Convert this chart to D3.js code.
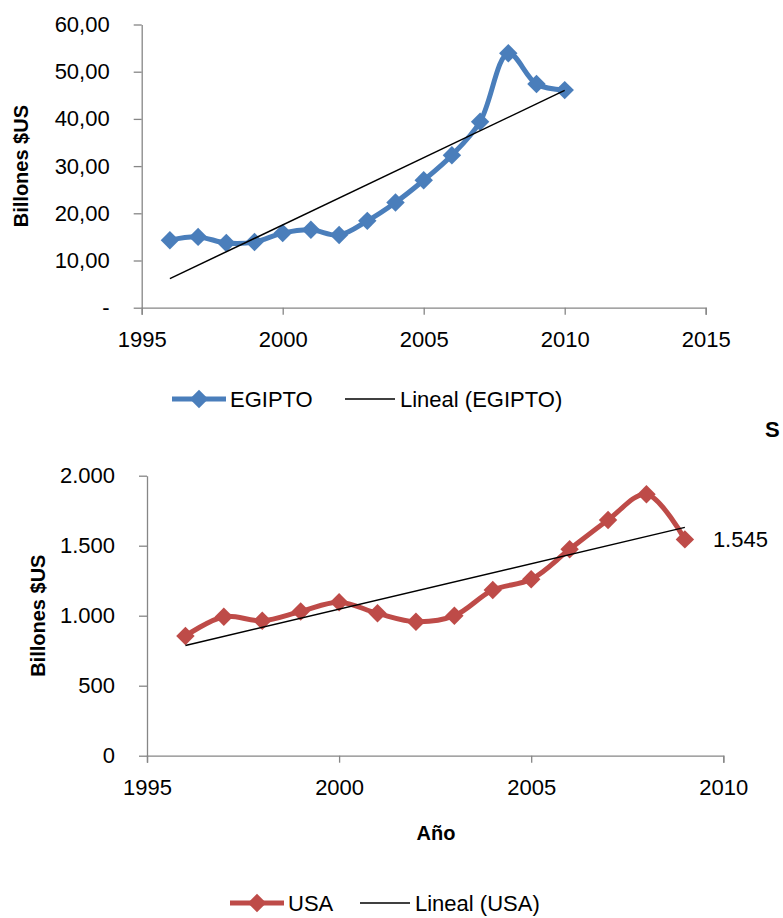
<!DOCTYPE html>
<html>
<head>
<meta charset="utf-8">
<script src="https://cdn.jsdelivr.net/npm/d3@7"></script>
<style>
  body { margin: 0; background: #fff; }
  svg { display: block; font-family: "Liberation Sans", Arial, sans-serif; }
</style>
</head>
<body>
<div id="chart"></div>
<script>
// EGIPTO (billones $US)
const egiptoYears = [1996, 1997, 1998, 1999, 2000, 2001, 2002, 2003, 2004, 2005, 2006, 2007, 2008, 2009, 2010];
const egiptoValues = [14.3, 15.0, 13.7, 13.9, 15.8, 16.5, 15.4, 18.4, 22.3, 27.0, 32.3, 39.4, 53.9, 47.4, 46.1];
const egiptoXTicks = [1995, 2000, 2005, 2010, 2015];
const egiptoYTicks = [0, 10, 20, 30, 40, 50, 60];

// USA (billones $US)
const usaYears = [1996, 1997, 1998, 1999, 2000, 2001, 2002, 2003, 2004, 2005, 2006, 2007, 2008, 2009];
const usaValues = [855, 993, 964, 1030, 1096, 1017, 957, 1000, 1184, 1260, 1474, 1684, 1867, 1545];
const usaXTicks = [1995, 2000, 2005, 2010];
const usaYTicks = [0, 500, 1000, 1500, 2000];

const W = 783, H = 918;
const locale = d3.formatLocale({ decimal: ',', thousands: '.', grouping: [3], currency: ['$', ''] });
const AXIS = '#868686';

const svg = d3.select('#chart').append('svg')
  .attr('width', W).attr('height', H).attr('viewBox', `0 0 ${W} ${H}`);

function linearFit(xs, ys) {
  const mx = d3.mean(xs), my = d3.mean(ys);
  const sxy = d3.sum(xs, (x, i) => (x - mx) * (ys[i] - my));
  const sxx = d3.sum(xs, (x) => (x - mx) ** 2);
  const b = sxy / sxx;
  return (x) => my + b * (x - mx);
}

function drawPanel(o) {
  const x = d3.scaleLinear().domain(d3.extent(o.xTicks)).range([o.left, o.right]);
  const y = d3.scaleLinear().domain(d3.extent(o.yTicks)).range([o.bottom, o.top]);
  const g = svg.append('g');

  // axes
  const xAxis = g.append('g').attr('transform', `translate(0,${o.bottom})`)
    .call(d3.axisBottom(x).tickValues(o.xTicks).tickSize(7).tickSizeOuter(7).tickPadding(17).tickFormat(d3.format('d')));
  const yAxis = g.append('g').attr('transform', `translate(${o.left},0)`)
    .call(d3.axisLeft(y).tickValues(o.yTicks).tickSize(8).tickSizeOuter(0).tickPadding(24).tickFormat(o.yFormat));
  [xAxis, yAxis].forEach((ax) => {
    ax.selectAll('line, path').attr('stroke', AXIS).attr('stroke-width', 1.3);
    ax.selectAll('text').attr('fill', '#000').attr('font-size', 22);
  });

  // y title
  g.append('text')
    .attr('transform', `translate(${o.yTitleX},${(o.top + o.bottom) / 2}) rotate(-90)`)
    .attr('text-anchor', 'middle').attr('font-size', 20).attr('font-weight', 'bold')
    .text('Billones $US');

  // series
  g.append('path')
    .attr('fill', 'none').attr('stroke', o.color).attr('stroke-width', 5)
    .attr('stroke-linejoin', 'round')
    .attr('d', d3.line().x((d, i) => x(o.xs[i])).y((d) => y(d))
      .curve(d3.curveCatmullRom.alpha(0.5))(o.ys));

  const diamond = d3.symbol(d3.symbolSquare, 170);
  g.selectAll('.mk').data(o.ys).join('path')
    .attr('transform', (d, i) => `translate(${x(o.xs[i])},${y(d)}) rotate(45)`)
    .attr('d', diamond).attr('fill', o.color);

  // linear trend
  const fit = linearFit(o.xs, o.ys);
  const ends = d3.extent(o.xs);
  g.append('path')
    .attr('fill', 'none').attr('stroke', '#000').attr('stroke-width', 1.5)
    .attr('d', d3.line().x((d) => x(d)).y((d) => y(fit(d)))(ends));

  // legend
  const lg = g.append('g').attr('transform', `translate(0,${o.legendY})`);
  lg.append('line').attr('x1', o.legendX).attr('x2', o.legendX + 54).attr('y1', 0).attr('y2', 0)
    .attr('stroke', o.color).attr('stroke-width', 5);
  lg.append('path').attr('transform', `translate(${o.legendX + 27},0) rotate(45)`)
    .attr('d', diamond).attr('fill', o.color);
  lg.append('text').attr('x', o.legendX + 58).attr('y', 8).attr('font-size', 22).text(o.name);
  const x2 = o.legendX + o.legendGap;
  lg.append('line').attr('x1', x2).attr('x2', x2 + 50).attr('y1', 0).attr('y2', 0)
    .attr('stroke', '#000').attr('stroke-width', 1.5);
  lg.append('text').attr('x', x2 + 55).attr('y', 8).attr('font-size', 22).text(`Lineal (${o.name})`);

  return { x, y, g };
}

drawPanel({
  xs: egiptoYears, ys: egiptoValues, xTicks: egiptoXTicks, yTicks: egiptoYTicks,
  left: 141.7, right: 705.7, top: 24.5, bottom: 307.7,
  yFormat: (d) => (d === 0 ? '-' : locale.format(',.2f')(d)),
  color: '#4a7ebb', name: 'EGIPTO', yTitleX: 28,
  legendX: 172, legendGap: 173, legendY: 399
});

const usa = drawPanel({
  xs: usaYears, ys: usaValues, xTicks: usaXTicks, yTicks: usaYTicks,
  left: 147, right: 723.3, top: 475.7, bottom: 755.7,
  yFormat: locale.format(',d'),
  color: '#be4b48', name: 'USA', yTitleX: 45,
  legendX: 230, legendGap: 130, legendY: 903
});

// data label for last USA point
const last = usaValues.length - 1;
usa.g.append('text')
  .attr('x', usa.x(usaYears[last]) + 28).attr('y', usa.y(usaValues[last]) + 8)
  .attr('font-size', 22).text(locale.format(',d')(usaValues[last]));

// x title
usa.g.append('text').attr('x', 436).attr('y', 840)
  .attr('text-anchor', 'middle').attr('font-size', 20).attr('font-weight', 'bold').text('Año');

// cut-off title fragment at right edge
svg.append('text').attr('x', 765).attr('y', 437)
  .attr('font-size', 22).attr('font-weight', 'bold').text('S');
</script>
</body>
</html>
